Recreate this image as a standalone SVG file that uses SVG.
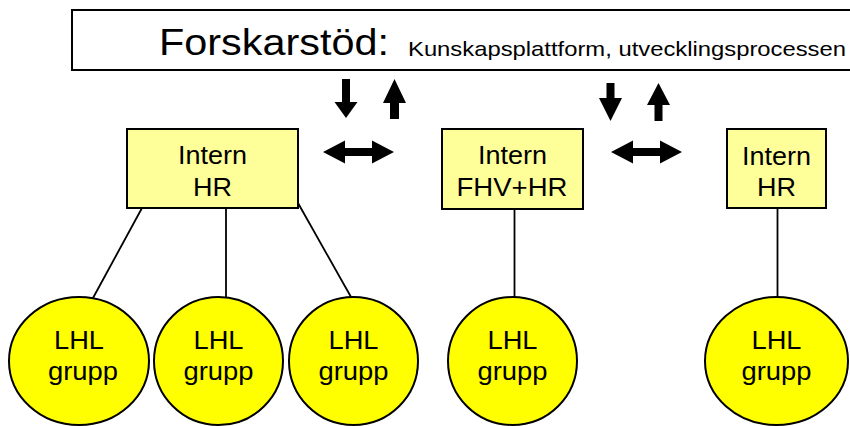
<svg xmlns="http://www.w3.org/2000/svg" width="850" height="426" viewBox="0 0 850 426">
<style>
  text { font-family: "Liberation Sans", Arial, sans-serif; fill: #000; }
  .box { fill: #FFFF99; stroke: #000; stroke-width: 2; }
  .circ { fill: #FFFF00; stroke: #000; stroke-width: 2; }
  .lbl { font-size: 25.5px; text-anchor: middle; }
  .con { stroke: #000; stroke-width: 1.8; fill: none; }
  .arr { fill: #000; }
</style>
<rect width="850" height="426" fill="#fff"/>

<g id="forskarstod">
  <rect x="72" y="10" width="790" height="60" fill="#fff" stroke="#000" stroke-width="2"/>
  <text x="159" y="54.5" font-size="37" textLength="230" lengthAdjust="spacingAndGlyphs">Forskarstöd:</text>
  <text x="408" y="56" font-size="21" textLength="438" lengthAdjust="spacingAndGlyphs">Kunskapsplattform, utvecklingsprocessen</text>
</g>

<g id="connectors">
  <line class="con" x1="142" y1="208" x2="93" y2="298"/>
  <line class="con" x1="226" y1="202" x2="226" y2="297"/>
  <line class="con" x1="298" y1="203" x2="351" y2="297"/>
  <line class="con" x1="514.5" y1="202" x2="514.5" y2="297"/>
  <line class="con" x1="777.5" y1="208" x2="777.5" y2="297"/>
</g>

<g id="arrows">
  <polygon class="arr" points="342,79 350,79 350,102 357.5,102 346,118 334.5,102 342,102"/>
  <polygon class="arr" points="394.5,79 406,103 399,103 399,119 390,119 390,103 383,103"/>
  <polygon class="arr" points="323,152 345,140.5 345,148 372,148 372,140.5 394,152 372,163.5 372,156 345,156 345,163.5"/>
  <polygon class="arr" points="606.5,83 614.5,83 614.5,98 622,98 610.5,121 599,98 606.5,98"/>
  <polygon class="arr" points="658.5,83 670,105 662.5,105 662.5,121 654.5,121 654.5,105 647,105"/>
  <polygon class="arr" points="611,152 633,140.5 633,148 660,148 660,140.5 682,152 660,163.5 660,156 633,156 633,163.5"/>
</g>

<g id="intern-hr-1">
  <rect class="box" x="127" y="129" width="171" height="79"/>
  <text class="lbl" x="212.5" y="164" textLength="69" lengthAdjust="spacingAndGlyphs">Intern</text>
  <text class="lbl" x="212.5" y="196" textLength="39" lengthAdjust="spacingAndGlyphs">HR</text>
</g>

<g id="intern-fhv-hr">
  <rect class="box" x="442" y="129" width="141" height="80"/>
  <text class="lbl" x="512.5" y="164" textLength="69" lengthAdjust="spacingAndGlyphs">Intern</text>
  <text class="lbl" x="512" y="195.5" textLength="111" lengthAdjust="spacingAndGlyphs">FHV+HR</text>
</g>

<g id="intern-hr-2">
  <rect class="box" x="727" y="129" width="99" height="79"/>
  <text class="lbl" x="776.5" y="164.5" textLength="69" lengthAdjust="spacingAndGlyphs">Intern</text>
  <text class="lbl" x="776.5" y="196" textLength="39" lengthAdjust="spacingAndGlyphs">HR</text>
</g>

<g id="lhl-1">
  <ellipse class="circ" cx="79" cy="361" rx="70" ry="64"/>
  <text class="lbl" x="79" y="348.5" textLength="50" lengthAdjust="spacingAndGlyphs">LHL</text>
  <text class="lbl" x="83" y="380" textLength="70" lengthAdjust="spacingAndGlyphs">grupp</text>
</g>
<g id="lhl-2">
  <ellipse class="circ" cx="218.5" cy="361" rx="64.5" ry="64"/>
  <text class="lbl" x="218.5" y="348.5" textLength="50" lengthAdjust="spacingAndGlyphs">LHL</text>
  <text class="lbl" x="218.5" y="380" textLength="70" lengthAdjust="spacingAndGlyphs">grupp</text>
</g>
<g id="lhl-3">
  <ellipse class="circ" cx="353.5" cy="361" rx="64.5" ry="64"/>
  <text class="lbl" x="353.5" y="348.5" textLength="50" lengthAdjust="spacingAndGlyphs">LHL</text>
  <text class="lbl" x="353.5" y="380" textLength="70" lengthAdjust="spacingAndGlyphs">grupp</text>
</g>
<g id="lhl-4">
  <ellipse class="circ" cx="512.5" cy="361" rx="64.5" ry="64"/>
  <text class="lbl" x="512.5" y="348.5" textLength="50" lengthAdjust="spacingAndGlyphs">LHL</text>
  <text class="lbl" x="512.5" y="380" textLength="70" lengthAdjust="spacingAndGlyphs">grupp</text>
</g>
<g id="lhl-5">
  <ellipse class="circ" cx="776.5" cy="361" rx="71.5" ry="64"/>
  <text class="lbl" x="776.5" y="348.5" textLength="50" lengthAdjust="spacingAndGlyphs">LHL</text>
  <text class="lbl" x="776.5" y="380" textLength="70" lengthAdjust="spacingAndGlyphs">grupp</text>
</g>
</svg>
